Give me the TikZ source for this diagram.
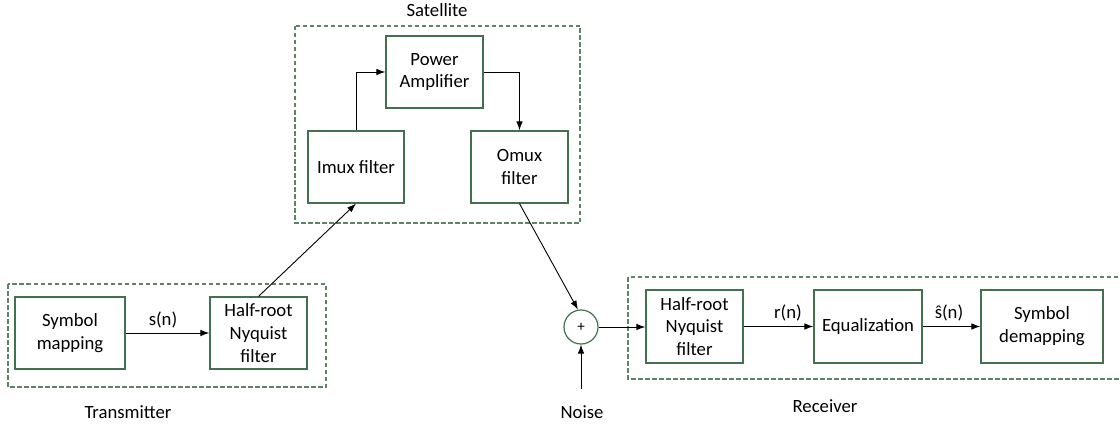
\documentclass[tikz,border=0pt]{standalone}
\usepackage{fontspec}
\setmainfont{Carlito}
\usetikzlibrary{arrows.meta}
\definecolor{boxgreen}{HTML}{44704F}
\definecolor{dashgreen}{HTML}{5E8368}
\tikzset{
  blk/.style={draw=boxgreen, line width=1.2pt, fill=white, align=center,
    inner sep=0pt, font=\fontsize{18.7}{22.8}\selectfont},
  grp/.style={draw=dashgreen, line width=1.2pt, dash pattern=on 4.5pt off 2.5pt},
  lbl/.style={font=\fontsize{18.7}{22.8}\selectfont, inner sep=0pt},
  sig/.style={line width=0.9pt, -{Latex[length=9pt,width=6.5pt]}},
  adder/.style={circle, draw=boxgreen, line width=1.2pt, minimum size=34pt,
    inner sep=0pt, font=\fontsize{15}{18}\selectfont},
}
\begin{document}
\begin{tikzpicture}[x=1pt, y=-1pt]
\clip (0,0) rectangle (1120,428);
\fill[white] (0,0) rectangle (1120,428);

% group frames
\draw[grp] (8,284) rectangle (326,387);
\draw[grp] (295,26) rectangle (580,223);
\draw[grp] (628,277) rectangle (1135,379);

\node[lbl] (ttx) at (128,412) {Transmitter};
\node[lbl] (tsat) at (437,10) {Satellite};
\node[lbl] (trx) at (825,406) {Receiver};

% transmitter
\node[blk, minimum width=110pt, minimum height=72pt] (sym) at (70,333) {Symbol\\mapping};
\node[blk, minimum width=97pt, minimum height=72pt] (txf) at (258.5,333) {Half-root\\Nyquist\\filter};

% satellite
\node[blk, minimum width=96pt, minimum height=72pt] (imux) at (356,167) {Imux filter};
\node[blk, minimum width=97pt, minimum height=72pt] (pa) at (434.5,72) {Power\\Amplifier};
\node[blk, minimum width=97pt, minimum height=72pt] (omux) at (519.5,167) {Omux\\filter};

% channel
\node[adder] (sum) at (581,327) {+};
\node[lbl] (noise) at (582,412) {Noise};
\coordinate (nsrc) at (581,389);

% receiver
\node[blk, minimum width=97pt, minimum height=73pt] (rxf) at (694.5,326.5) {Half-root\\Nyquist\\filter};
\node[blk, minimum width=108pt, minimum height=73pt] (eq) at (868,326.5) {Equalization};
\node[blk, minimum width=122pt, minimum height=73pt] (dem) at (1042,326.5) {Symbol\\demapping};

% signal labels
\node[lbl] (sn) at (163,320) {s(n)};
\node[lbl] (rn) at (788,313) {r(n)};
\node[lbl] (shn) at (949,313) {ŝ(n)};

% connections
\draw[sig] (sym.east |- txf.west) -- (txf.west);
\draw[sig] (txf.north) -- (imux.south);
\draw[sig] (imux.north) |- (pa.west);
\draw[sig] (pa.east) -| (omux.north);
\draw[sig] (omux.south) -- (sum.100);
\draw[sig] (nsrc) -- (sum.south);
\draw[sig] (sum.east) -- (sum.east -| rxf.west);
\draw[sig] (rxf.east) -- (eq.west);
\draw[sig] (eq.east) -- (dem.west);
\end{tikzpicture}
\end{document}
